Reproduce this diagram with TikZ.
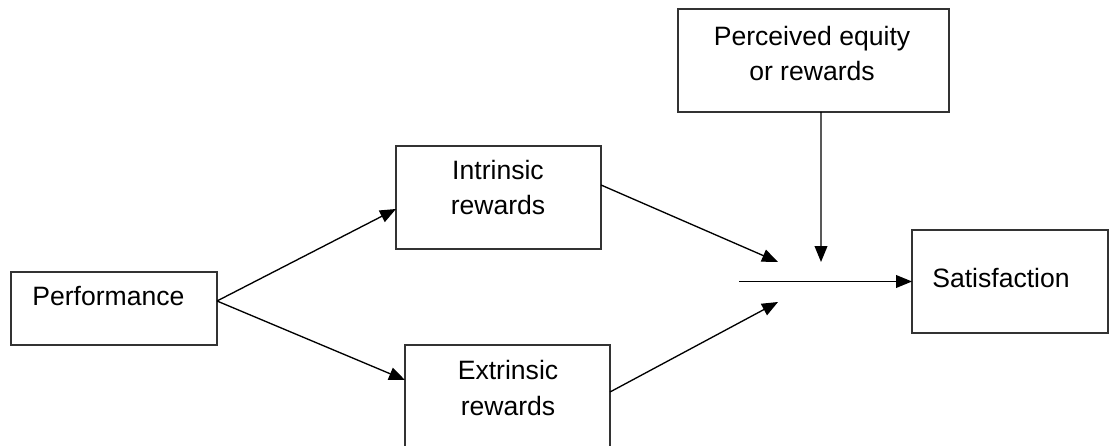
\documentclass[tikz,border=0pt]{standalone}
\usepackage{fontspec}
\setmainfont{Liberation Sans}
\usepackage{tikz}
\usetikzlibrary{positioning, arrows.meta}
\tikzset{
    box/.style={
        draw, line width = 0.75pt,
        draw = black!80,
        inner sep = 0pt, outer sep = 0pt,
        minimum height = 2.575cm
    },
    lbl/.style={
        align = center,
        inner sep = 0pt,
        font = \fontsize{18.9}{24.9}\selectfont
    },
    line/.style = {-{Triangle[length=0.4cm, width=0.32cm]}, line width = 0.95pt}
}
\begin{document}
\begin{tikzpicture}

    % Canvas
    \useasboundingbox (0,0) rectangle (27.75,-11.15);

    % Boxes
    \node[box, minimum width = 5.15cm, minimum height = 1.825cm] (perf) at (2.85,-7.7125) {};
    \node[box, minimum width = 5.125cm] (intr) at (12.4625,-4.9375) {};
    \node[box, minimum width = 5.125cm] (extr) at (12.6875,-9.9125) {};
    \node[box, minimum width = 6.775cm] (perc) at (20.3375,-1.5125) {};
    \node[box, minimum width = 4.9cm] (sat) at (25.25,-7.0375) {};

    % Labels (base = last line)
    \node[lbl, anchor = base west] (perftext) at (0.8,-7.625) {Performance};
    \node[lbl, anchor = base] (intrtext) at (12.45,-5.375) {Intrinsic\\rewards};
    \node[lbl, anchor = base] (extrtext) at (12.7,-10.375) {Extrinsic\\rewards};
    \node[lbl, anchor = base] (perctext) at (20.3,-2.025) {Perceived equity\\or rewards};
    \node[lbl, anchor = base west] (sattext) at (23.3,-7.175) {Satisfaction};

    % Junction
    \coordinate (join) at (18.475,-7.0375);
    \coordinate (tipup) at (19.45,-6.55);
    \coordinate (tipdown) at (19.45,-7.55);
    \coordinate (tipmid) at (20.525,-6.55);

    % Arrows
    \draw[line] ([yshift=0.1875cm]perf.east) -- ([yshift=-0.2875cm]intr.west);
    \draw[line] ([yshift=0.1875cm]perf.east) -- ([yshift=0.4125cm]extr.west);
    \draw[line] ([yshift=0.3125cm]intr.east) -- (tipup);
    \draw[line] ([yshift=0.1125cm]extr.east) -- (tipdown);
    \draw[line] ([xshift=0.1875cm]perc.south) -- (tipmid);
    \draw[line] (join) -- (sat.west);

\end{tikzpicture}
\end{document}
